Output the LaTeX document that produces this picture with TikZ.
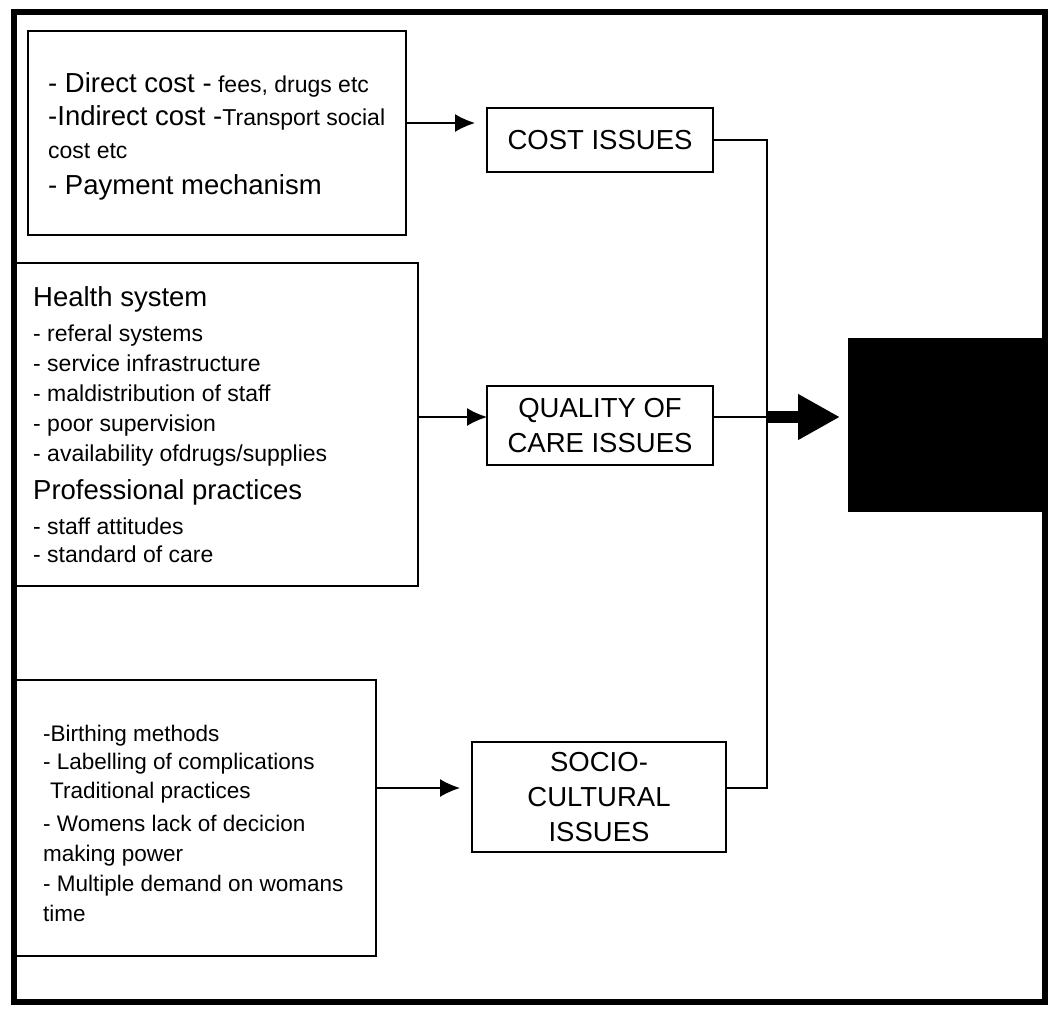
\documentclass[tikz,border=0pt]{standalone}
\usepackage{fontspec}
\setmainfont{Liberation Sans}
\usetikzlibrary{arrows.meta}

\newcommand\srcbig{\fontsize{27.5}{33}\selectfont}
\newcommand\srcsmall{\fontsize{23}{30}\selectfont}
\newcommand\issuefont{\fontsize{27.5}{35}\selectfont}

\begin{document}
\begin{tikzpicture}%
	[x=1pt, y=-1pt,
	frame/.style={line width=6pt},
	srcbox/.style={draw, line width=1.6pt, inner sep=0pt, outer sep=0pt, anchor=north west},
	srctext/.style={inner sep=0pt, anchor=west, align=left, font=\srcsmall},
	issue/.style={draw, line width=1.6pt, inner sep=0pt, outer sep=0pt, anchor=north west, align=center, font=\issuefont},
	link/.style={line width=1.6pt},
	feed/.style={link, -{Latex[length=20pt,width=18pt]}},
	bigarrow/.style={line width=12pt, -{Triangle[length=42pt,width=43pt]}}]
	\useasboundingbox (0,0) rectangle (1048,1012);
	\draw[frame] (14,12) rectangle (1045,1002);

	%source boxes
	\node[srcbox, minimum width=378pt, minimum height=204pt] (costsrc) at (28,31) {};
	\node[srcbox, minimum width=404pt, minimum height=323pt] (healthsrc) at (14,263) {};
	\node[srcbox, minimum width=362pt, minimum height=276pt] (socialsrc) at (14,680) {};

	\node[srctext, font=\fontsize{23}{33}\selectfont] (costtxt) at ([xshift=20pt,yshift=-3pt]costsrc.west)
		{{\srcbig - Direct cost -} fees, drugs etc\\
		{\srcbig -Indirect cost -}Transport social\\
		cost etc\\[3pt]
		{\srcbig - Payment mechanism}};
	\node[srctext] (healthtxt) at ([xshift=19pt]healthsrc.west)
		{{\srcbig Health system}\\[5pt]
		- referal systems\\
		- service infrastructure\\
		- maldistribution of staff\\
		- poor supervision\\
		- availability ofdrugs/supplies\\[8pt]
		{\srcbig Professional practices}\\[5pt]
		- staff attitudes\\[-2pt]
		- standard of care};
	\node[srctext, font=\fontsize{22.5}{30}\selectfont] (socialtxt) at ([xshift=29pt,yshift=-5pt]socialsrc.west)
		{-Birthing methods\\[-2pt]
		- Labelling of complications\\[-1pt]
		\hspace*{7pt}Traditional practices\\[3pt]
		- Womens lack of decicion\\
		making power\\
		- Multiple demand on womans\\
		time};

	%issues
	\node[issue, minimum width=226pt, minimum height=64pt] (cost) at (487,108) {COST ISSUES};
	\node[issue, minimum width=226pt, minimum height=79pt] (qual) at (487,386) {QUALITY OF\\CARE ISSUES};
	\node[issue, minimum width=254pt, minimum height=110pt] (socio) at (472,742) {SOCIO-\\CULTURAL\\ISSUES};
	\node[fill=black, inner sep=0pt, outer sep=0pt, anchor=north west, minimum width=204pt, minimum height=174pt] (outcome) at (848,338) {};

	\draw[feed, shorten >=12pt] ([yshift=10pt]costsrc.east) -- ([yshift=17pt]cost.west);
	\draw[feed] ([yshift=7.5pt]healthsrc.east) -- ([yshift=8.5pt]qual.west);
	\draw[feed, shorten >=12pt] ([yshift=30pt]socialsrc.east) -- ([yshift=9pt]socio.west);

	%collecting line
	\coordinate (bustop) at (767,140);
	\coordinate (busjoin) at (767,417);
	\coordinate (busend) at (767,788);
	\draw[link] (cost.east) -- (bustop) -- (busend) -- ([yshift=9pt]socio.east);
	\draw[link] ([yshift=8.5pt]qual.east) -- (busjoin);
	\draw[bigarrow, shorten >=8pt] (busjoin) -- ([yshift=8pt]outcome.west);
\end{tikzpicture}
\end{document}
